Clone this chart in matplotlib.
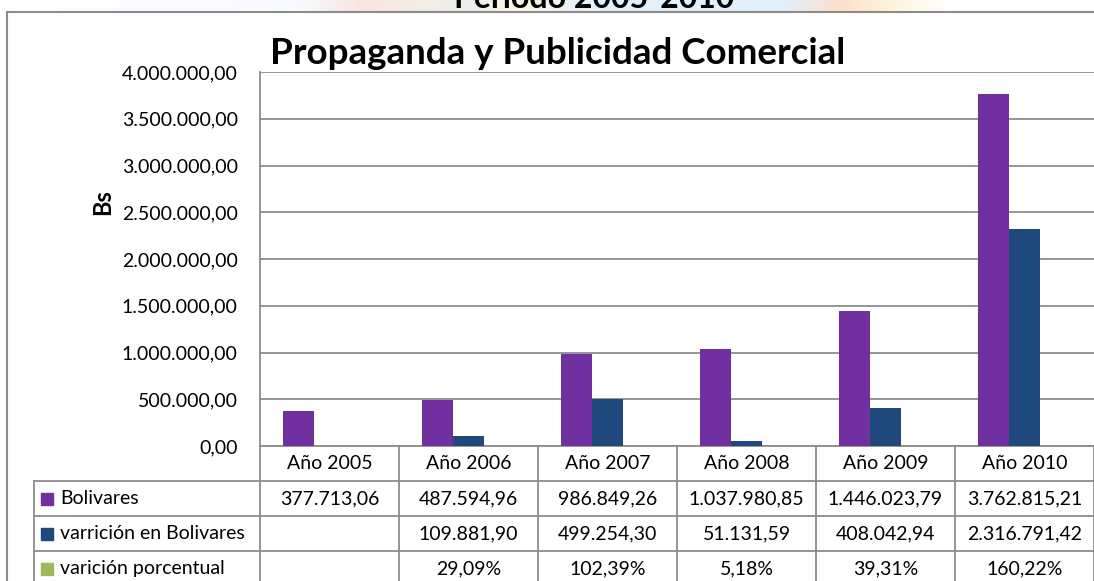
import numpy as np
import matplotlib
matplotlib.use('Agg')
import matplotlib.pyplot as plt
from matplotlib import transforms
from matplotlib.patches import Rectangle
from matplotlib.lines import Line2D

plt.rcParams['font.family'] = ['Lato', 'DejaVu Sans']

years = ['Año 2005', 'Año 2006', 'Año 2007', 'Año 2008', 'Año 2009', 'Año 2010']
bolivares = [377713.06, 487594.96, 986849.26, 1037980.85, 1446023.79, 3762815.21]
variacion_bs = [None, 109881.90, 499254.30, 51131.59, 408042.94, 2316791.42]
variacion_pct = [None, 29.09, 102.39, 5.18, 39.31, 160.22]

series_names = ['Bolivares', 'varrición en Bolivares', 'varición porcentual']
series_colors = ['#7030A0', '#1F497D', '#9BBB59']
grid_color = '#8C8C8C'

W, H = 1094, 581


def fmt_es(v, dec=2):
    s = f'{v:,.{dec}f}'
    return s.replace(',', 'X').replace('.', ',').replace('X', '.')


def fy(px):
    return 1 - px / H


def fx(px):
    return px / W


fig = plt.figure(figsize=(W / 100, H / 100), dpi=100)

# faint background strip at the top (watermark of the page behind the chart)
stops_x = [0, 300, 360, 420, 470, 520, 580, 780, 840, 900, 950, W]
stops_c = [(1, 1, 1), (0.97, 0.98, 1.0), (0.98, 0.90, 0.88), (0.96, 0.93, 0.90),
           (0.93, 0.93, 0.93), (0.99, 0.97, 0.88), (0.90, 0.95, 0.99), (0.88, 0.94, 0.99),
           (0.99, 0.88, 0.80), (1.0, 0.97, 0.88), (1, 1, 1), (1, 1, 1)]
xs = np.arange(W)
strip = np.stack([np.interp(xs, stops_x, [c[k] for c in stops_c]) for k in range(3)], axis=-1)
bg = fig.add_axes([0, fy(12), 1, 12 / H])
bg.imshow(strip[np.newaxis, :, :], aspect='auto')
bg.axis('off')

# page title, cut by the top edge as in the original screenshot
fig.text(fx(594), fy(8), 'Periodo 2005-2010', ha='center', va='baseline',
         fontsize=23, fontweight='bold', color='black')

# chart area border
fig.add_artist(Line2D([fx(7), 1], [fy(12), fy(12)], color=grid_color, lw=1.5))
fig.add_artist(Line2D([fx(7), fx(7)], [fy(12), 0], color=grid_color, lw=1.5))

ax = fig.add_axes([fx(260), fy(446), fx(1094) - fx(260), fy(72) - fy(446)])
x = np.arange(len(years))
bw = 0.223
pct_vals = [0 if v is None else v / 100 for v in variacion_pct]
var_vals = [0 if v is None else v for v in variacion_bs]
for vals, off, col in zip([bolivares, var_vals, pct_vals], [-bw, 0, bw], series_colors):
    ax.bar(x + off, vals, width=bw, color=col, zorder=3)

ax.set_xlim(-0.5, len(years) - 0.5)
ax.set_ylim(0, 4000000)
yt = np.arange(0, 4000001, 500000)
ax.set_yticks(yt)
ax.set_yticklabels([fmt_es(v) for v in yt], fontsize=14)
ax.set_xticks([])
ax.tick_params(axis='y', length=0, pad=16)
ax.grid(axis='y', color=grid_color, lw=1.3, zorder=0)
for s in ['top', 'right']:
    ax.spines[s].set_visible(False)
for s in ['left', 'bottom']:
    ax.spines[s].set_color(grid_color)
    ax.spines[s].set_linewidth(1.3)

fig.text(fx(103), fy(202), 'Bs', rotation=90, ha='center', va='center',
         fontsize=17, fontweight='bold')

fig.text(fx(558), fy(54), 'Propaganda y Publicidad Comercial', ha='center', va='center',
         fontsize=26.5, fontweight='bold')

# data table below the plot
trans = transforms.blended_transform_factory(ax.transData, fig.transFigure)
row_edges = [446, 481, 516, 551, 586]
for xe in np.arange(-0.5, len(years), 1.0):
    ax.add_line(Line2D([xe, xe], [fy(446), 0], transform=trans, color=grid_color,
                       lw=1.3, clip_on=False))
for ye in row_edges[1:4]:
    fig.add_artist(Line2D([fx(34), 1], [fy(ye), fy(ye)], color=grid_color, lw=1.3))
fig.add_artist(Line2D([fx(34), fx(34)], [fy(481), 0], color=grid_color, lw=1.3))

hc = (row_edges[0] + row_edges[1]) / 2
for i, yr in enumerate(years):
    ax.text(i, fy(hc), yr, transform=trans, ha='center', va='center', fontsize=14)

rows = [
    [fmt_es(v) for v in bolivares],
    ['' if v is None else fmt_es(v) for v in variacion_bs],
    ['' if v is None else fmt_es(v) + '%' for v in variacion_pct],
]
for r, (vals, name, col) in enumerate(zip(rows, series_names, series_colors)):
    yc = (row_edges[r + 1] + row_edges[r + 2]) / 2
    for i, txt in enumerate(vals):
        ax.text(i, fy(yc), txt, transform=trans, ha='center', va='center', fontsize=14)
    fig.add_artist(Rectangle((fx(41), fy(yc + 6)), 12 / W, 12 / H, color=col))
    fig.text(fx(60), fy(yc), name, ha='left', va='center', fontsize=14)

fig.savefig('out.png', dpi=100)
